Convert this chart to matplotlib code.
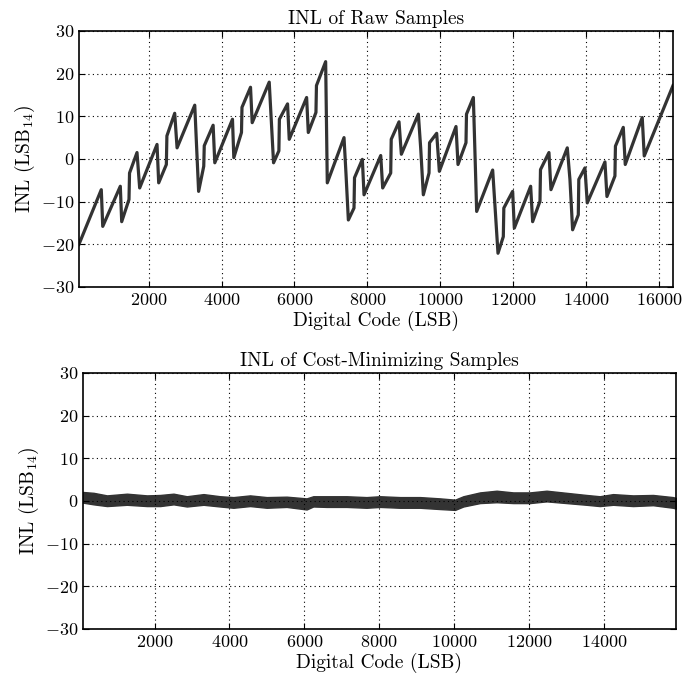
import matplotlib
matplotlib.use('Agg')
import matplotlib.pyplot as plt

plt.rcParams['font.family'] = 'serif'
plt.rcParams['font.serif'] = ['cmr10', 'DejaVu Serif']
plt.rcParams['mathtext.fontset'] = 'cm'
plt.rcParams['axes.formatter.use_mathtext'] = True

# INL of raw samples: breakpoints
raw_code = [88, 700, 740, 1222, 1260, 1460, 1475, 1680, 1753, 2229, 2275, 2485, 2500, 2714,
            2779, 3264, 3310, 3370, 3511, 3525, 3768, 3814, 4299, 4336, 4546, 4560, 4794, 4840,
            5307, 5362, 5426, 5572, 5586, 5810, 5856, 6333, 6379, 6589, 6603, 6855, 6900, 7359,
            7414, 7478, 7633, 7647, 7862, 7908, 8366, 8420, 8640, 8654, 8868, 8932, 9398, 9462,
            9535, 9691, 9705, 9901, 9974, 10431, 10486, 10705, 10719, 10907, 10998, 11437, 11501,
            11583, 11729, 11743, 11985, 12031, 12479, 12533, 12735, 12749, 12981, 13036, 13484,
            13557, 13630, 13786, 13800, 13968, 14032, 14517, 14572, 14791, 14805, 15020, 15074,
            15540, 15595, 16384]
raw_inl = [-20, -7.2, -15.8, -6.4, -14.7, -9.5, -3.3, 1.5, -6.8, 3.4, -5.6, -1.3, 5.4, 10.7,
           2.6, 12.6, 3.8, -7.6, -1.7, 3.1, 7.9, -0.9, 9.3, 0.3, 6.2, 12.1, 16.8, 8.5,
           18, 9.3, -0.9, 1.9, 9.3, 12.9, 4.6, 14.4, 6.2, 10.9, 17.2, 22.8, -5.6, 5,
           -3.6, -14.3, -11.5, -4.4, -0.1, -8.4, 0.8, -6.8, -3.3, 4.6, 8.7, 1.1, 10.5, 2.6,
           -8.4, -3.3, 3.8, 6, -2.9, 7.6, -1.3, 3.8, 10.5, 14.4, -12.3, -2.6, -11.1,
           -22.1, -18.2, -11.5, -7.6, -16.2, -6.4, -14.7, -9.9, -2.5, 1.5, -7.2, 2.6,
           -4.8, -16.6, -13.1, -4.8, -2.1, -10.3, -0.7, -8.8, -4.0, 3.0, 7.4, -1.3,
           9.7, 0.7, 17.2]

# INL of cost-minimizing samples: upper / lower edge of the noise band
cost_code = [88, 373, 729, 1262, 1796, 2151, 2507, 2862, 3307, 3751, 4107, 4551, 4996, 5529,
             6062, 6240, 6596, 7129, 7662, 8027, 8560, 9093, 9627, 10027, 10249, 10694, 11138,
             11583, 12027, 12472, 13005, 13538, 13893, 14249, 14782, 15316, 15849, 15930]
cost_hi = [2.1, 1.9, 1.3, 1.7, 1.3, 1.4, 1.7, 1.1, 1.6, 1.1, 0.9, 1.3, 0.9, 1.0,
           0.6, 1.1, 1.1, 1.1, 0.9, 1.1, 0.9, 0.9, 0.6, 0.3, 1.1, 2.0, 2.4, 2.0,
           2.0, 2.4, 1.9, 1.4, 1.1, 1.6, 1.3, 1.4, 0.9, 0.7]
cost_lo = [-0.4, -0.8, -1.2, -0.9, -1.2, -1.2, -0.8, -1.3, -0.9, -1.3, -1.6, -1.2, -1.6, -1.4,
           -2.0, -1.3, -1.4, -1.4, -1.6, -1.4, -1.6, -1.6, -1.9, -2.1, -1.3, -0.5, -0.3, -0.5,
           -0.5, -0.1, -0.5, -0.9, -1.2, -0.9, -1.2, -1.0, -1.6, -1.8]

yticks = [-30, -20, -10, 0, 10, 20, 30]
top_xticks = [2000, 4000, 6000, 8000, 10000, 12000, 14000, 16000]
bot_xticks = [2000, 4000, 6000, 8000, 10000, 12000, 14000]

line_col = '#333333'
fs = 14
tick_fs = 13


def style(ax, xticks, xmax, title):
    ax.set_xlim(88, xmax)
    ax.set_ylim(-30, 30)
    ax.set_xticks(xticks)
    ax.set_yticks(yticks)
    ax.grid(True, color='black', linestyle=(0, (1, 3)), linewidth=0.8)
    ax.tick_params(direction='in', top=True, right=True, labelsize=tick_fs, length=4)
    for s in ax.spines.values():
        s.set_linewidth(1.2)
    ax.set_title(title, fontsize=fs, pad=5)
    ax.set_xlabel('Digital Code (LSB)', fontsize=fs, labelpad=2)
    ax.set_ylabel(r'INL $(\mathrm{LSB}_{14})$', fontsize=fs, labelpad=3)


def main():
    fig = plt.figure(figsize=(6.82, 6.81), dpi=100)
    ax1 = fig.add_axes([0.1158, 0.5786, 0.8710, 0.3760])
    ax2 = fig.add_axes([0.1217, 0.0764, 0.8695, 0.3760])

    ax1.plot(raw_code, raw_inl, color=line_col, linewidth=2.3)
    style(ax1, top_xticks, 16384, 'INL of Raw Samples')

    ax2.fill_between(cost_code, cost_lo, cost_hi, color=line_col, linewidth=1.0,
                     edgecolor=line_col)
    style(ax2, bot_xticks, 15930, 'INL of Cost-Minimizing Samples')

    fig.savefig('out.png', dpi=100)


if __name__ == "__main__":
    main()
